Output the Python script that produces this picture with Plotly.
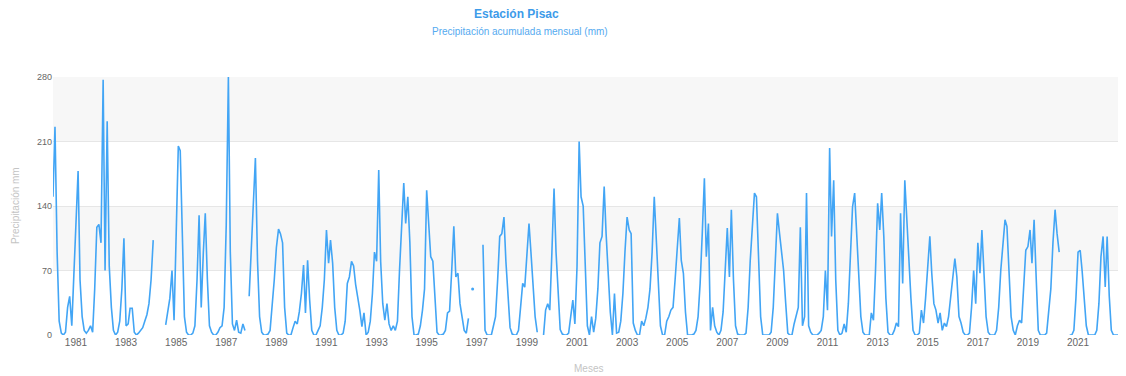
import pandas as pd
import plotly.graph_objects as go

# Monthly accumulated precipitation (mm), Jan..Dec for each year (None = no data)
y1980 = [None, 150, 226, 90, 15, 2, 0, 3, 30, 42, 10, 65]
y1981 = [120, 178, 60, 20, 5, 2, 5, 10, 3, 50, 117, 120]
y1982 = [100, 277, 70, 232, 75, 30, 5, 0, 3, 15, 50, 105]
y1983 = [10, 12, 29, 29, 3, 0, 2, 5, 8, 15, 22, 34]
y1984 = [60, 103, None, None, None, None, None, 11, 25, 40, 70, 16]
y1985 = [110, 205, 200, 100, 20, 3, 0, 0, 2, 10, 60, 130]
y1986 = [30, 90, 132, 60, 10, 3, 0, 0, 3, 8, 10, 30]
y1987 = [120, 280, 90, 12, 5, 16, 3, 2, 12, 5, None, 42]
y1988 = [96, 140, 192, 80, 20, 3, 0, 0, 1, 5, 30, 60]
y1989 = [95, 115, 110, 100, 30, 2, 0, 0, 8, 15, 12, 25]
y1990 = [45, 76, 24, 81, 38, 5, 0, 0, 5, 10, 30, 60]
y1991 = [114, 78, 103, 78, 30, 5, 0, 0, 2, 15, 56, 63]
y1992 = [80, 75, 55, 42, 27, 9, 24, 0, 3, 15, 45, 90]
y1993 = [80, 179, 80, 34, 16, 34, 12, 5, 10, 5, 15, 70]
y1994 = [120, 165, 121, 150, 100, 20, 0, 0, 1, 10, 27, 50]
y1995 = [157, 114, 85, 80, 40, 3, 0, 0, 1, 5, 24, 26]
y1996 = [70, 118, 63, 67, 34, 20, 5, 2, 18, None, 50, None]
y1997 = [None, None, None, 98, 5, 0, 0, 0, 10, 20, 60, 107]
y1998 = [110, 128, 80, 40, 8, 1, 0, 0, 5, 30, 56, 52]
y1999 = [90, 121, 90, 55, 20, 3, None, None, 0, 27, 34, 27]
y2000 = [90, 159, 90, 50, 6, 1, 0, 0, 2, 20, 38, 12]
y2001 = [74, 210, 150, 140, 70, 10, 0, 20, 3, 18, 50, 100]
y2002 = [107, 161, 110, 70, 25, 0, 45, 2, 3, 15, 45, 90]
y2003 = [128, 114, 110, 13, 5, 0, 0, 15, 10, 18, 30, 50]
y2004 = [90, 150, 100, 50, 10, 0, 0, 15, 20, 27, 30, 60]
y2005 = [95, 127, 81, 67, 25, 0, 0, 0, 1, 5, 20, 56]
y2006 = [110, 170, 85, 121, 5, 30, 10, 3, 0, 5, 25, 70]
y2007 = [116, 63, 136, 60, 10, 1, 0, 0, 0, 2, 30, 80]
y2008 = [120, 154, 150, 70, 20, 0, 0, 0, 0, 3, 30, 80]
y2009 = [132, 110, 92, 70, 35, 2, 0, 0, 12, 20, 30, 117]
y2010 = [10, 20, 154, 10, 3, 0, 0, 0, 2, 5, 20, 70]
y2011 = [27, 203, 107, 168, 60, 5, 0, 2, 12, 3, 34, 80]
y2012 = [139, 154, 110, 70, 20, 3, 0, 0, 0, 24, 16, 70]
y2013 = [143, 114, 154, 107, 40, 3, 0, 0, 5, 13, 9, 132]
y2014 = [56, 168, 125, 85, 40, 5, 0, 0, 2, 27, 13, 40]
y2015 = [70, 107, 67, 34, 27, 13, 24, 5, 13, 9, 20, 42]
y2016 = [60, 83, 63, 20, 13, 3, 0, 0, 2, 30, 70, 34]
y2017 = [100, 67, 114, 60, 20, 3, 0, 0, 0, 5, 30, 70]
y2018 = [100, 125, 118, 70, 20, 5, 0, 10, 16, 13, 60, 92]
y2019 = [96, 114, 78, 125, 63, 5, 0, 0, 0, 2, 30, 50]
y2020 = [100, 136, 110, 90, None, None, None, None, 0, 0, 5, 40]
y2021 = [90, 92, 70, 35, 10, 0, 0, 0, 0, 5, 34, 85]
y2022 = [107, 52, 107, 42, 5, 0, 0, 0, 0, 13, 0, 63]

years = [y1980, y1981, y1982, y1983, y1984, y1985, y1986, y1987, y1988, y1989,
         y1990, y1991, y1992, y1993, y1994, y1995, y1996, y1997, y1998, y1999,
         y2000, y2001, y2002, y2003, y2004, y2005, y2006, y2007, y2008, y2009,
         y2010, y2011, y2012, y2013, y2014, y2015, y2016, y2017, y2018, y2019,
         y2020, y2021, y2022]

y_ticks = [0, 70, 140, 210, 280]
x_tick_years = list(range(1981, 2022, 2))

values = [v for yr in years for v in yr]
dates = pd.date_range("1980-01-01", periods=len(values), freq="MS")

valid = [i for i, v in enumerate(values) if v is not None]
x_min, x_max = dates[valid[0]], dates[valid[-1]]

# isolated points (surrounded by gaps) get a marker
iso_x, iso_y = [], []
for i, v in enumerate(values):
    if v is None:
        continue
    prev_none = i == 0 or values[i - 1] is None
    next_none = i == len(values) - 1 or values[i + 1] is None
    if prev_none and next_none:
        iso_x.append(dates[i])
        iso_y.append(v)

LINE = "#42a5f5"
FONT = "Liberation Sans, Arial, sans-serif"

fig = go.Figure()
fig.add_trace(go.Scatter(x=dates, y=values, mode="lines", connectgaps=False,
                         line=dict(color=LINE, width=1.6), showlegend=False))
fig.add_trace(go.Scatter(x=iso_x, y=iso_y, mode="markers",
                         marker=dict(color=LINE, size=3), showlegend=False))

shapes = []
for lo, hi in [(y_ticks[1], y_ticks[2]), (y_ticks[3], y_ticks[4])]:
    shapes.append(dict(type="rect", xref="paper", yref="y", x0=0, x1=1, y0=lo, y1=hi,
                       fillcolor="#f7f7f7", line=dict(width=0), layer="below"))

# page body has an 8px margin; compensate so the plot lands where the reference has it
OFF = 8
W, H = 1126 - OFF, 376 - OFF
L, T = 53 - OFF, 77 - OFF
R = 0
ph = 258
B = H - T - ph
pw = W - L - R

def px(x):
    return (x - OFF - L) / pw

def py(y):
    return (T + ph - (y - OFF)) / ph

fig.update_layout(
    width=W, height=H,
    margin=dict(l=L, r=R, t=T, b=B),
    paper_bgcolor="white", plot_bgcolor="white",
    font=dict(family=FONT, color="#666666", size=10),
    shapes=shapes,
    xaxis=dict(
        type="date",
        range=[x_min, x_max],
        tickvals=[pd.Timestamp(f"{y}-01-01") for y in x_tick_years],
        ticktext=[str(y) for y in x_tick_years],
        showgrid=False, zeroline=False, showline=False,
        ticks="", tickfont=dict(size=10, color="#666666"),
    ),
    yaxis=dict(
        range=[0, 280], tickvals=y_ticks, ticktext=[str(t) for t in y_ticks],
        showgrid=True, gridcolor="#e6e6e6", gridwidth=1, zeroline=False,
        showline=False, ticks="", tickfont=dict(size=9, color="#666666"),
    ),
    annotations=[
        dict(text="<b>Estación Pisac</b>", x=px(516), y=py(14), xref="paper", yref="paper",
             showarrow=False, xanchor="center", yanchor="middle",
             font=dict(size=12, color="#3d9be9", family=FONT)),
        dict(text="Precipitación acumulada mensual (mm)", x=px(520), y=py(32),
             xref="paper", yref="paper", showarrow=False, xanchor="center", yanchor="middle",
             font=dict(size=10, color="#55aaf0", family=FONT)),
        dict(text="Precipitación mm", x=px(15), y=0.5, xref="paper", yref="paper",
             showarrow=False, textangle=-90, xanchor="center", yanchor="middle",
             font=dict(size=10, color="#c4c4c4", family=FONT)),
        dict(text="Meses", x=px(588), y=py(368), xref="paper", yref="paper",
             showarrow=False, xanchor="center", yanchor="middle",
             font=dict(size=10, color="#c4c4c4", family=FONT)),
    ],
)

fig.write_html("out.html")
